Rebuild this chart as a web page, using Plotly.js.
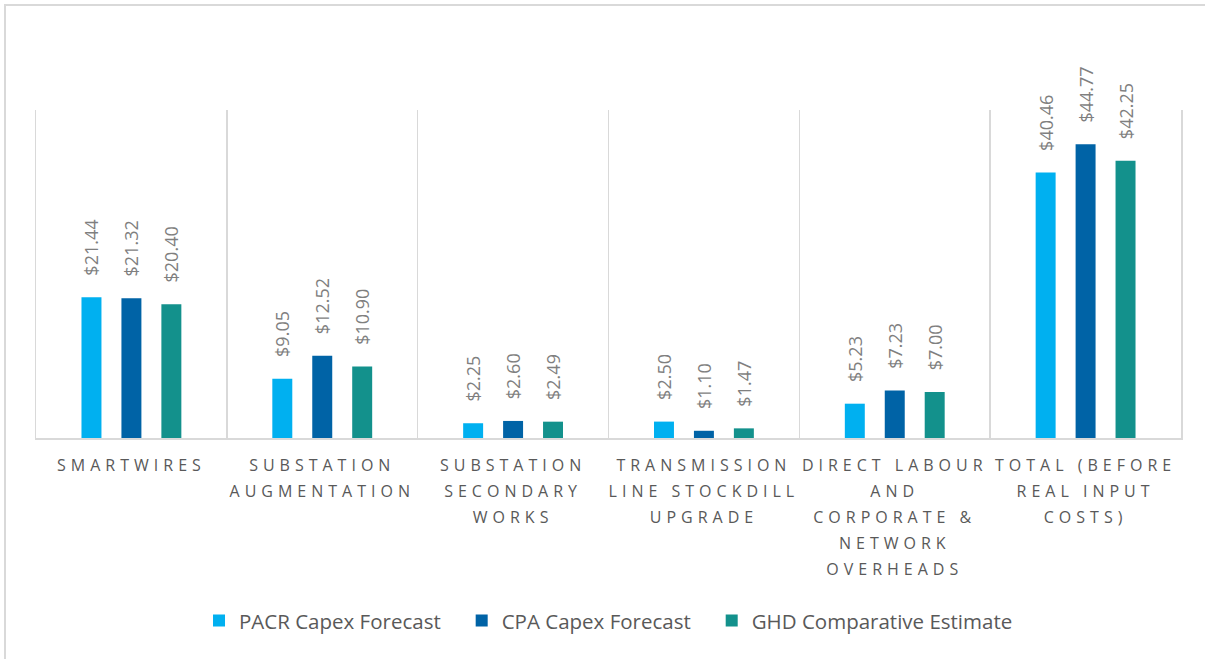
<!DOCTYPE html>
<html>
<head>
<meta charset="utf-8">
<script src="https://cdn.plot.ly/plotly-3.0.1.min.js"></script>
<style>
  html, body { margin: 0; padding: 0; overflow: hidden; background: #fff; }
  #chart { position: absolute; left: 0; top: 0; width: 1205px; height: 659px; }
  #frame { position: absolute; left: 4px; top: 4px; width: 1230px; height: 700px;
           border: 2px solid #d9d9d9; pointer-events: none; box-sizing: border-box; }
  .xtick text { letter-spacing: 5px; }
</style>
</head>
<body>
<div id="chart"></div>
<div id="frame"></div>
<script>
const categories = [
  "SMARTWIRES",
  "SUBSTATION<br>AUGMENTATION",
  "SUBSTATION<br>SECONDARY<br>WORKS",
  "TRANSMISSION<br>LINE STOCKDILL<br>UPGRADE",
  "DIRECT LABOUR<br>AND<br>CORPORATE &<br>NETWORK<br>OVERHEADS",
  "TOTAL (BEFORE<br>REAL INPUT<br>COSTS)"
];
const pacrCapex = [21.44, 9.05, 2.25, 2.50, 5.23, 40.46];
const cpaCapex  = [21.32, 12.52, 2.60, 1.10, 7.23, 44.77];
const ghdEstimate = [20.40, 10.90, 2.49, 1.47, 7.00, 42.25];
const seriesNames = ["PACR Capex Forecast", "CPA Capex Forecast", "GHD Comparative Estimate"];
const seriesColors = ["#00B0F0", "#0063A6", "#13918C"];

const pad = "\u00A0\u00A0\u00A0\u00A0";
const legendPad = "\u00A0\u00A0\u00A0";
const allValues = [pacrCapex, cpaCapex, ghdEstimate];
const traces = allValues.map((vals, i) => ({
  type: "bar",
  name: seriesNames[i] + legendPad,
  x: categories,
  y: vals,
  marker: { color: seriesColors[i] },
  text: vals.map(v => pad + "$" + v.toFixed(2)),
  textposition: "outside",
  textangle: -90,
  constraintext: "none",
  cliponaxis: false,
  textfont: { family: "Open Sans, sans-serif", size: 18, color: "#7F7F7F" },
  hoverinfo: "skip"
}));

const layout = {
  width: 1205, height: 659,
  margin: { l: 36, r: 24, t: 110, b: 221 },
  paper_bgcolor: "#ffffff", plot_bgcolor: "#ffffff",
  barmode: "group",
  bargap: 0.372,
  bargroupgap: 0.5,
  showlegend: true,
  font: { family: "Open Sans, sans-serif", color: "#595959" },
  xaxis: {
    type: "category",
    tickson: "boundaries",
    ticks: "",
    showgrid: true,
    gridcolor: "#d9d9d9",
    gridwidth: 1.5,
    showline: true,
    linecolor: "#d9d9d9",
    linewidth: 1.5,
    tickangle: 0,
    tickfont: { family: "Open Sans, sans-serif", size: 16, color: "#595959" },
    ticklabelstandoff: 12,
    fixedrange: true
  },
  yaxis: {
    range: [0, 50],
    showgrid: false,
    zeroline: false,
    showticklabels: false,
    ticks: "",
    showline: true,
    mirror: true,
    linecolor: "#d9d9d9",
    linewidth: 1.5,
    fixedrange: true
  },
  legend: {
    orientation: "h",
    x: 0.507, xanchor: "center",
    yref: "container", y: 0.058, yanchor: "middle",
    font: { family: "Open Sans, sans-serif", size: 20.5, color: "#595959" },
    traceorder: "normal"
  }
};

function fixLineSpacing() {
  document.querySelectorAll("#chart .xtick text").forEach(t => {
    t.querySelectorAll("tspan.line").forEach((ts, i) => {
      ts.setAttribute("dy", (i * 26) + "px");
    });
  });
}

Plotly.newPlot("chart", traces, layout, { displayModeBar: false, staticPlot: true }).then(gd => {
  fixLineSpacing();
  gd.on("plotly_afterplot", fixLineSpacing);
});
</script>
</body>
</html>
